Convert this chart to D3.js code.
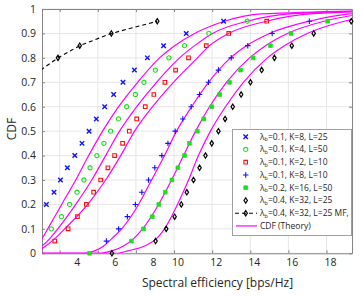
<!DOCTYPE html>
<html><head><meta charset="utf-8">
<script src="https://cdn.jsdelivr.net/npm/d3@7"></script>
<style>
body{margin:0;background:#fff;}
svg text{font-family:"Open Sans",sans-serif;fill:#262626;}
</style></head><body>
<svg id="c" width="363" height="296"></svg>
<script>
// ---------- data ----------
const xTicks = [4, 6, 8, 10, 12, 14, 16, 18];
const yTicks = [0, 0.1, 0.2, 0.3, 0.4, 0.5, 0.6, 0.7, 0.8, 0.9, 1];

const legendLabels = [
  ["λ", "b", "=0.1, K=8, L=25"],
  ["λ", "b", "=0.1, K=4, L=50"],
  ["λ", "b", "=0.1, K=2, L=10"],
  ["λ", "b", "=0.1, K=8, L=10"],
  ["λ", "b", "=0.2, K=16, L=50"],
  ["λ", "b", "=0.4, K=32, L=25"],
  ["λ", "b", "=0.4, K=32, L=25 MF,"],
  ["CDF (Theory)", "", ""]
];

// simulated series: spectral efficiency (x) and CDF (y)
const s1Eff = [3.30,3.70,4.04,4.40,4.79,5.17,5.54,5.92,6.36,6.83,7.32,7.92,8.60,9.45,10.64,12.60];
const s1Cdf = [0.2,0.25,0.3,0.35,0.4,0.45,0.5,0.55,0.6,0.65,0.7,0.75,0.8,0.85,0.9,0.95];

const s2Eff = [3.56,4.09,4.52,4.91,5.27,5.59,5.95,6.32,6.67,7.08,7.51,7.97,8.42,9.02,9.73,10.55,11.83,13.84];
const s2Cdf = [0.1,0.15,0.2,0.25,0.3,0.35,0.4,0.45,0.5,0.55,0.6,0.65,0.7,0.75,0.8,0.85,0.9,0.95];

const s3Eff = [3.74,4.44,4.93,5.40,5.78,6.15,6.53,6.88,7.30,7.65,8.04,8.49,8.94,9.52,10.08,10.76,11.69,12.87,14.86];
const s3Cdf = [0.05,0.1,0.15,0.2,0.25,0.3,0.35,0.4,0.45,0.5,0.55,0.6,0.65,0.7,0.75,0.8,0.85,0.9,0.95];

const s4Eff = [6.45,7.09,7.55,7.97,8.31,8.66,8.99,9.36,9.68,10.06,10.46,10.90,11.34,11.81,12.33,13.00,13.87,15.15,17.10];
const s4Cdf = [0.05,0.1,0.15,0.2,0.25,0.3,0.35,0.4,0.45,0.5,0.55,0.6,0.65,0.7,0.75,0.8,0.85,0.9,0.95];

const s5Eff = [5.57,7.76,8.40,8.86,9.20,9.54,9.89,10.20,10.55,10.81,11.22,11.56,11.98,12.39,12.91,13.49,14.15,15.06,16.14,18.06];
const s5Cdf = [0,0.05,0.1,0.15,0.2,0.25,0.3,0.35,0.4,0.45,0.5,0.55,0.6,0.65,0.7,0.75,0.8,0.85,0.9,0.95];

const s6Eff = [6.74,9.03,9.59,10.03,10.38,10.67,11.02,11.34,11.65,11.98,12.33,12.68,13.08,13.52,14.01,14.60,15.27,16.18,17.33,19.30];
const s6Cdf = [0,0.05,0.1,0.15,0.2,0.25,0.3,0.35,0.4,0.45,0.5,0.55,0.6,0.65,0.7,0.75,0.8,0.85,0.9,0.95];

const mfEff = [3.0,3.91,5.05,6.71,9.12];
const mfCdf = [0.75,0.8,0.85,0.9,0.95];

// theoretical CDF curves (sampled from the figure)
const theoryCdf = [0,0,0.01,0.03,0.06,0.1,0.2,0.3,0.4,0.5,0.6,0.7,0.8,0.85,0.9,0.95,0.98,0.995];
const theory1 = [1.5,1.8,2.3,2.75,3.07,3.37,4.10,4.84,5.52,6.25,7.09,8.09,9.24,10.03,11.08,12.65,14.59,22.0];
const theory2 = [1.9,2.2,2.6,3.07,3.48,3.90,4.84,5.68,6.41,7.14,8.04,9.08,10.29,11.08,12.02,13.85,16.05,22.5];
const theory3 = [2.0,2.3,2.85,3.27,3.74,4.26,5.47,6.41,7.20,7.93,8.87,9.97,11.23,11.86,12.86,14.85,17.10,23.0];
const theory4 = [2.0,5.31,5.83,6.31,6.73,7.25,8.14,8.82,9.50,10.13,10.92,11.81,12.96,13.80,15.01,17.10,19.20,22.87];
const theory5 = [2.0,6.10,6.73,7.35,7.88,8.35,9.19,9.87,10.50,11.13,11.86,12.75,13.96,14.80,15.95,17.89,19.98,23.39];
const theory6 = [2.0,7.04,7.56,8.45,9.08,9.50,10.18,10.76,11.28,11.91,12.70,13.64,14.90,15.79,16.99,18.93,21.03,24.44];

// ---------- drawing ----------
const svg = d3.select("#c");
const L = 42, R = 352, T = 9, B = 253.3;
const x = d3.scaleLinear().domain([3.07, 19.34]).range([L, R]);
const y = d3.scaleLinear().domain([0, 1]).range([B, T]);

const AX = "#858585";
const BLUE = "#1010ff", GREEN = "#1ede1e", RED = "#ff1010", MAG = "#ff00ff";

// grid
svg.append("g").selectAll("line").data(xTicks).join("line")
  .attr("x1", d => x(d)).attr("x2", d => x(d)).attr("y1", T).attr("y2", B)
  .attr("stroke", "#e6e6e6").attr("stroke-width", 1);
svg.append("g").selectAll("line").data(yTicks).join("line")
  .attr("x1", L).attr("x2", R).attr("y1", d => y(d)).attr("y2", d => y(d))
  .attr("stroke", "#e6e6e6").attr("stroke-width", 1);

// box (top / right)
svg.append("g").attr("transform", `translate(0,${T})`)
  .call(d3.axisTop(x).tickValues(xTicks).tickSize(-3).tickSizeOuter(0).tickFormat(""))
  .call(g => g.selectAll("path,line").attr("stroke", AX));
svg.append("g").attr("transform", `translate(${R},0)`)
  .call(d3.axisRight(y).tickValues(yTicks).tickSize(-3).tickSizeOuter(0).tickFormat(""))
  .call(g => g.selectAll("path,line").attr("stroke", AX));

// axes
const gx = svg.append("g").attr("transform", `translate(0,${B})`)
  .call(d3.axisBottom(x).tickValues(xTicks).tickSize(-3).tickSizeOuter(0).tickPadding(5.5));
gx.selectAll("path,line").attr("stroke", AX);
gx.selectAll("text").attr("font-size", 10.5).attr("font-family", "Open Sans").attr("fill", "#262626")
  .attr("dx", d => d < 10 ? 17 : 3.5);

const gy = svg.append("g").attr("transform", `translate(${L},0)`)
  .call(d3.axisLeft(y).tickValues(yTicks).tickSize(-3).tickSizeOuter(0).tickPadding(6).tickFormat(d => String(d)));
gy.selectAll("path,line").attr("stroke", AX);
gy.selectAll("text").attr("font-size", 10.5).attr("font-family", "Open Sans").attr("fill", "#262626");

// titles
svg.append("text").attr("x", 217.5).attr("y", 287).attr("text-anchor", "middle")
  .attr("font-size", 12).text("Spectral efficiency [bps/Hz]");
svg.append("text").attr("transform", "translate(16,129) rotate(-90)").attr("text-anchor", "middle")
  .attr("font-size", 12).text("CDF");

// clip
svg.append("clipPath").attr("id", "clip").append("rect")
  .attr("x", L).attr("y", T).attr("width", R - L).attr("height", B - T);

// theory lines
const lineGen = d3.line().x(d => x(d[0])).y(d => y(d[1])).curve(d3.curveMonotoneX);
const theories = [theory1, theory2, theory3, theory4, theory5, theory6];
const gl = svg.append("g").attr("clip-path", "url(#clip)");
theories.forEach(t => {
  gl.append("path").datum(t.map((v, i) => [v, theoryCdf[i]]))
    .attr("d", lineGen).attr("fill", "none").attr("stroke", MAG).attr("stroke-width", 1.2);
});

// MF dashed line
gl.append("path").datum(mfEff.map((v, i) => [v, mfCdf[i]]))
  .attr("d", d3.line().x(d => x(d[0])).y(d => y(d[1])))
  .attr("fill", "none").attr("stroke", "#000").attr("stroke-width", 1.1).attr("stroke-dasharray", "4,3");

// marker symbol types
const symX = { draw(c, s) { const r = Math.sqrt(s) / 2; c.moveTo(-r, -r); c.lineTo(r, r); c.moveTo(r, -r); c.lineTo(-r, r); } };
const symPlus = { draw(c, s) { const r = Math.sqrt(s) / 2; c.moveTo(-r, 0); c.lineTo(r, 0); c.moveTo(0, -r); c.lineTo(0, r); } };
const symDiamond = { draw(c, s) { const r = Math.sqrt(s) / 2; c.moveTo(0, -r * 1.25); c.lineTo(r * 0.8, 0); c.lineTo(0, r * 1.25); c.lineTo(-r * 0.8, 0); c.closePath(); } };
const symSquare = { draw(c, s) { const r = Math.sqrt(s) / 2; c.rect(-r, -r, 2 * r, 2 * r); } };
const symCircle = { draw(c, s) { const r = Math.sqrt(s) / 2; c.moveTo(r, 0); c.arc(0, 0, r, 0, 2 * Math.PI); } };

const styles = [
  { type: symX, size: 20, stroke: BLUE, fill: "none", sw: 1.4 },
  { type: symCircle, size: 18, stroke: GREEN, fill: "none", sw: 1.1 },
  { type: symSquare, size: 13, stroke: RED, fill: "none", sw: 1.1 },
  { type: symPlus, size: 30, stroke: BLUE, fill: "none", sw: 1.1 },
  { type: symSquare, size: 14, stroke: GREEN, fill: GREEN, sw: 0.8 },
  { type: symDiamond, size: 18, stroke: "#000", fill: "none", sw: 1.2 },
  { type: symDiamond, size: 18, stroke: "#000", fill: "none", sw: 1.2 }
];
const sims = [[s1Eff, s1Cdf], [s2Eff, s2Cdf], [s3Eff, s3Cdf], [s4Eff, s4Cdf], [s5Eff, s5Cdf], [s6Eff, s6Cdf], [mfEff, mfCdf]];
const [dx0, dx1] = x.domain();
sims.forEach((s, k) => {
  const st = styles[k];
  const pts = s[0].map((v, i) => [v, s[1][i]]).filter(d => d[0] >= dx0 && d[0] <= dx1 + 0.01);
  svg.append("g").selectAll("path").data(pts).join("path")
    .attr("transform", d => `translate(${x(d[0])},${y(d[1])})`)
    .attr("d", d3.symbol().type(st.type).size(st.size))
    .attr("fill", st.fill).attr("stroke", st.stroke).attr("stroke-width", st.sw);
});

// legend
const lg = svg.append("g");
lg.append("rect").attr("x", 232.5).attr("y", 129.5).attr("width", 119).attr("height", 106)
  .attr("fill", "#fff").attr("stroke", "#a0a0a0").attr("stroke-width", 1);
legendLabels.forEach((lab, i) => {
  const cy = 136.7 + i * 12.75;
  if (i === 6) {
    lg.append("line").attr("x1", 235).attr("x2", 257).attr("y1", cy).attr("y2", cy)
      .attr("stroke", "#000").attr("stroke-width", 1.1).attr("stroke-dasharray", "4,3");
  }
  if (i === 7) {
    lg.append("line").attr("x1", 236).attr("x2", 257).attr("y1", cy).attr("y2", cy)
      .attr("stroke", MAG).attr("stroke-width", 1.2);
  } else {
    const st = styles[i];
    lg.append("path").attr("transform", `translate(245.7,${cy})`)
      .attr("d", d3.symbol().type(st.type).size(st.size))
      .attr("fill", st.fill).attr("stroke", st.stroke).attr("stroke-width", st.sw);
  }
  const t = lg.append("text").attr("x", 260).attr("y", cy).attr("dy", "0.35em").attr("font-size", 8.5);
  t.append("tspan").text(lab[0]);
  if (lab[1]) {
    t.append("tspan").attr("font-size", 5.5).attr("dy", "0.3em").text(lab[1]);
    t.append("tspan").attr("dy", "-0.21em").text(lab[2]);
  }
});
</script>
</body></html>
